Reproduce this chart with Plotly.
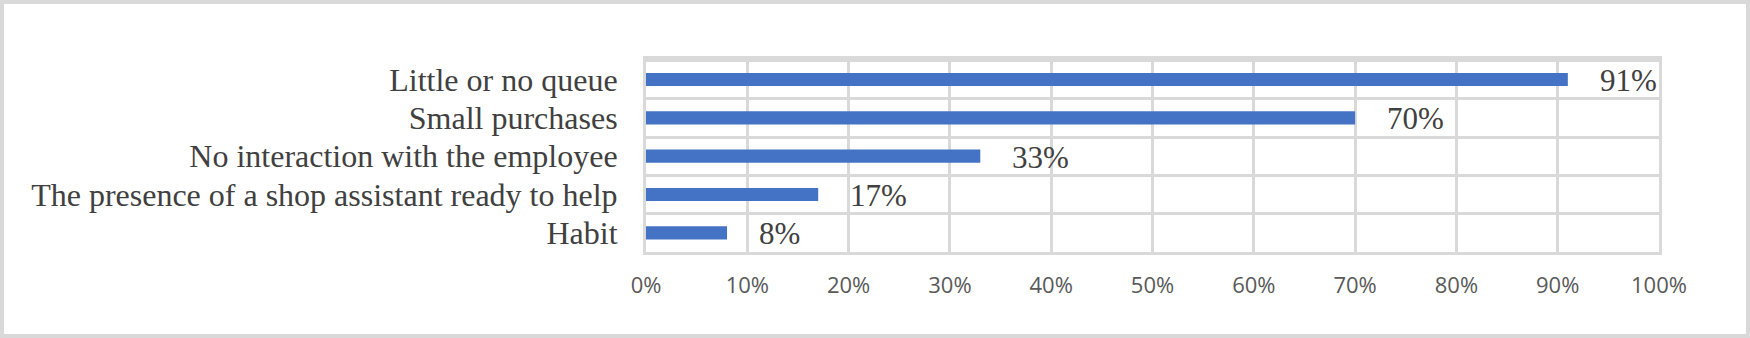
import plotly.graph_objects as go

categories = [
    "Little or no queue",
    "Small purchases",
    "No interaction with the employee",
    "The presence of a shop assistant ready to help",
    "Habit",
]
values = [91, 70, 33, 17, 8]
x_ticks = [0, 10, 20, 30, 40, 50, 60, 70, 80, 90, 100]
x_tick_labels = ["0%", "10%", "20%", "30%", "40%", "50%", "60%", "70%", "80%", "90%", "100%"]
data_labels = [f"{v}%" for v in values]

W, H = 1750, 338
ml, mr, mt, mb = 646, 91, 59, 86
pw, ph = W - ml - mr, H - mt - mb

GRID = "#D9D9D9"
serif = "Liberation Serif, Times New Roman, serif"

fig = go.Figure(
    go.Bar(
        x=values,
        y=categories,
        orientation="h",
        marker=dict(color="#4472C4", line=dict(width=0)),
        hoverinfo="skip",
    )
)

for c, v, t in zip(categories, values, data_labels):
    fig.add_annotation(
        x=v, y=c, text=t, showarrow=False, xanchor="left", yanchor="middle",
        xshift=30, yshift=-1,
        font=dict(family=serif, size=31, color="#404040"),
    )

# outer chart border
def px_to_paper_x(p):
    return (p - ml) / pw

def px_to_paper_y(p):
    return (H - mb - p) / ph

fig.add_shape(
    type="rect", xref="paper", yref="paper",
    x0=px_to_paper_x(2), x1=px_to_paper_x(1748),
    y0=px_to_paper_y(336), y1=px_to_paper_y(2),
    line=dict(color=GRID, width=4), fillcolor="rgba(0,0,0,0)", layer="below",
)

fig.update_layout(
    width=W, height=H,
    margin=dict(l=ml, r=mr, t=mt, b=mb, pad=0),
    paper_bgcolor="white", plot_bgcolor="white",
    bargap=0.655,
    showlegend=False,
    xaxis=dict(
        range=[0, 100], tickmode="array", tickvals=x_ticks, ticktext=x_tick_labels,
        showgrid=True, gridcolor=GRID, gridwidth=3, zeroline=False,
        showline=True, linecolor=GRID, linewidth=3, mirror=True,
        ticks="", ticklabelstandoff=12,
        tickfont=dict(family="Open Sans, Liberation Sans, sans-serif", size=22, color="#595959"),
        fixedrange=True,
    ),
    yaxis=dict(
        type="category", autorange="reversed", tickson="boundaries",
        showgrid=True, gridcolor=GRID, gridwidth=3, zeroline=False,
        showline=True, linecolor=GRID, linewidth=3, mirror=True,
        ticks="", ticklabelstandoff=19,
        tickfont=dict(family=serif, size=32, color="#404040"),
        fixedrange=True,
    ),
)

fig.write_html("out.html")
